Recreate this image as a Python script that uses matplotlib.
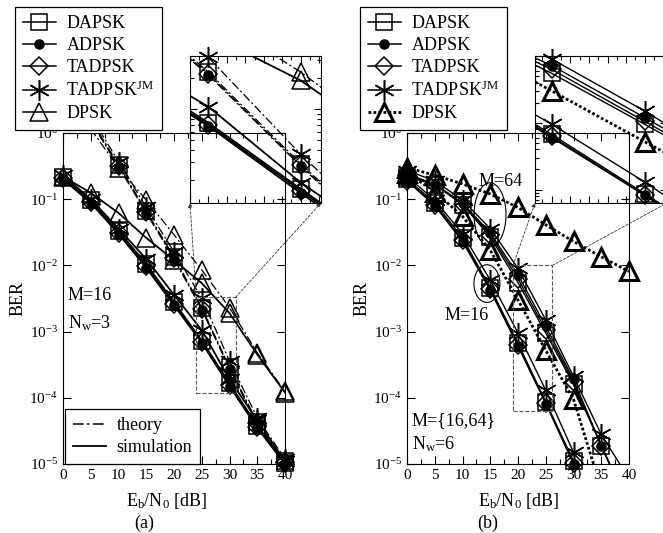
import numpy as np
import matplotlib
matplotlib.use("Agg")
import matplotlib.pyplot as plt
from matplotlib.lines import Line2D
from matplotlib.patches import Ellipse, Rectangle, ConnectionPatch
from matplotlib.ticker import MultipleLocator, LogLocator, NullLocator, NullFormatter

plt.rcParams.update({
    "font.family": ["Liberation Serif", "DejaVu Serif"],
    "mathtext.fontset": "custom",
    "mathtext.rm": "Liberation Serif",
    "mathtext.it": "Liberation Serif:italic",
    "mathtext.bf": "Liberation Serif:bold",
    "axes.linewidth": 0.8,
})

W, H = 663, 533

# ---------------- data ----------------
snr = [0, 5, 10, 15, 20, 25, 30, 35, 40]
snr_th = [5, 10, 15, 20, 25, 30, 35, 40]
snr_b16 = [0, 5, 10, 15, 20, 25, 30]
snr_b16_dpsk = [0, 5, 10, 15, 20, 25, 30, 35]

labels = ["DAPSK", "ADPSK", "TADPSK", "TADPSK$^{\\mathrm{JM}}$", "DPSK"]

# panel (a): M=16, Nw=3 -- simulation
a_sim_dapsk = [0.22, 0.097, 0.033, 0.0105, 0.0028, 7.3e-4, 1.65e-4, 3.8e-5, 1.05e-5]
a_sim_adpsk = [0.20, 0.088, 0.030, 0.0092, 0.0025, 6.8e-4, 1.5e-4, 3.5e-5, 1.0e-5]
a_sim_tadpsk = [0.21, 0.092, 0.031, 0.0098, 0.0026, 7.0e-4, 1.58e-4, 3.6e-5, 1.02e-5]
a_sim_tadpsk_jm = [0.23, 0.10, 0.036, 0.0125, 0.0036, 1.05e-3, 1.9e-4, 4.6e-5, 1.1e-5]
a_sim_dpsk = [0.22, 0.125, 0.062, 0.026, 0.012, 5.4e-3, 1.9e-3, 4.5e-4, 1.2e-4]
# panel (a): theory
a_th_dapsk = [1.6, 0.33, 0.066, 0.0135, 2.3e-3, 2.9e-4, 4.3e-5, 1.1e-5]
a_th_adpsk = [1.5, 0.31, 0.062, 0.0125, 2.15e-3, 2.75e-4, 4.0e-5, 1.05e-5]
a_th_tadpsk = [1.55, 0.32, 0.064, 0.013, 2.2e-3, 2.8e-4, 4.1e-5, 1.07e-5]
a_th_tadpsk_jm = [1.8, 0.37, 0.075, 0.016, 3.2e-3, 3.6e-4, 5.0e-5, 1.2e-5]
a_th_dpsk = [1.15, 0.30, 0.097, 0.029, 8.5e-3, 2.3e-3, 4.8e-4, 1.25e-4]

# panel (b): M=16, Nw=6
b16_dapsk = [0.20, 0.089, 0.026, 4.6e-3, 6.7e-4, 8.7e-5, 1.1e-5]
b16_adpsk = [0.19, 0.080, 0.023, 4.2e-3, 6.0e-4, 8.2e-5, 1.0e-5]
b16_tadpsk = [0.19, 0.083, 0.024, 4.4e-3, 6.3e-4, 8.4e-5, 1.05e-5]
b16_tadpsk_jm = [0.22, 0.097, 0.030, 6.0e-3, 9.5e-4, 1.3e-4, 1.5e-5]
b16_dpsk = [0.25, 0.13, 0.055, 0.017, 3.0e-3, 5.2e-4, 9.5e-5, 4.2e-6]
# panel (b): M=64, Nw=6
b64_dapsk = [0.22, 0.165, 0.083, 0.027, 5.5e-3, 9.5e-4, 1.6e-4, 1.9e-5, 2.2e-6]
b64_adpsk = [0.24, 0.17, 0.088, 0.031, 7.2e-3, 1.2e-3, 1.9e-4, 1.9e-5, 2.2e-6]
b64_tadpsk = [0.23, 0.168, 0.085, 0.029, 6.3e-3, 1.05e-3, 1.75e-4, 1.9e-5, 2.3e-6]
b64_tadpsk_jm = [0.27, 0.19, 0.097, 0.036, 9.0e-3, 1.5e-3, 2.1e-4, 2.8e-5, 6.0e-6]
b64_dpsk = [0.30, 0.23, 0.17, 0.12, 0.075, 0.041, 0.023, 0.0135, 0.0081]

# zoom windows (x range, y range)
zoom_a = ((24.0, 31.1), (1.2e-4, 3.3e-3))
zoom_b = ((19.1, 26.2), (6.3e-5, 1.0e-2))

# ---------------- styles ----------------
MK = [
    dict(marker="s", ms=12, mfc="none"),
    dict(marker="o", ms=6.5, mfc="k"),
    dict(marker="D", ms=9, mfc="none"),
    dict(marker=(6, 2, 0), ms=15),
    dict(marker="^", ms=13.5, mfc="none"),
]
DASHDOT = (0, (7, 2.2, 1.6, 2.2))
DOTTED = (0, (1, 0.8))


def draw(ax, x, y, lims, k, ls="-", lw=1.1, mew=1.1):
    x = np.asarray(x, float)
    y = np.asarray(y, float)
    ax.plot(x, y, color="k", ls=ls, lw=lw, zorder=2)
    (x0, x1), (y0, y1) = lims
    ok = (x >= x0 - 1e-9) & (x <= x1 + 1e-9) & (y >= y0 * 0.97) & (y <= y1 * 1.03)
    ax.plot(x[ok], y[ok], ls="none", color="k", mec="k", mew=mew,
            clip_on=False, zorder=3, **MK[k])


def style_main(ax):
    ax.set_xlim(0, 40)
    ax.set_ylim(1e-5, 1)
    ax.set_yscale("log")
    ax.xaxis.set_major_locator(MultipleLocator(5))
    ax.xaxis.set_minor_locator(MultipleLocator(2.5))
    ax.yaxis.set_major_locator(LogLocator(base=10, numticks=10))
    ax.yaxis.set_minor_locator(NullLocator())
    ax.tick_params(which="both", direction="in", top=True, right=True,
                   labelsize=11, width=0.8)
    ax.tick_params(which="major", length=6)
    ax.tick_params(which="minor", length=3.5)


def style_inset(ax, lims):
    (x0, x1), (y0, y1) = lims
    ax.set_yscale("log")
    ax.set_xlim(x0, x1)
    ax.set_ylim(y0, y1)
    ax.set_facecolor("none")
    ax.xaxis.set_major_locator(MultipleLocator(1))
    ax.xaxis.set_minor_locator(MultipleLocator(0.5))
    ax.yaxis.set_major_locator(LogLocator(base=10, numticks=10))
    ax.yaxis.set_minor_locator(LogLocator(base=10, subs=np.arange(2, 10), numticks=20))
    ax.yaxis.set_minor_formatter(NullFormatter())
    ax.tick_params(which="both", direction="in", top=True, right=True,
                   labelbottom=False, labelleft=False, width=0.8)
    ax.tick_params(which="major", length=5)
    ax.tick_params(which="minor", length=3)


def fx(px):
    return px / W


def fy(py):
    return 1 - py / H


fig = plt.figure(figsize=(W / 100, H / 100), dpi=100)

ax_a = fig.add_axes([fx(63), fy(464), fx(285) - fx(63), fy(133) - fy(464)])
ax_b = fig.add_axes([fx(407), fy(464), fx(629) - fx(407), fy(133) - fy(464)])
in_a = fig.add_axes([fx(190), fy(203), fx(321) - fx(190), fy(56) - fy(203)])
in_b = fig.add_axes([fx(535), fy(203), fx(667) - fx(535), fy(56) - fy(203)])

full = ((0, 40), (1e-5, 1))

# ---- panel (a)
a_sim = [a_sim_dapsk, a_sim_adpsk, a_sim_tadpsk, a_sim_tadpsk_jm, a_sim_dpsk]
a_th = [a_th_dapsk, a_th_adpsk, a_th_tadpsk, a_th_tadpsk_jm, a_th_dpsk]
for ax, lims in ((ax_a, full), (in_a, zoom_a)):
    for k in range(5):
        draw(ax, snr_th, a_th[k], lims, k, ls=DASHDOT, lw=0.9)
        draw(ax, snr, a_sim[k], lims, k, ls="-", lw=1.3)

# ---- panel (b)
b16 = [b16_dapsk, b16_adpsk, b16_tadpsk, b16_tadpsk_jm]
b64 = [b64_dapsk, b64_adpsk, b64_tadpsk, b64_tadpsk_jm]
for ax, lims in ((ax_b, full), (in_b, zoom_b)):
    for k in range(4):
        draw(ax, snr_b16, b16[k], lims, k, lw=1.0)
        draw(ax, snr, b64[k], lims, k, lw=1.0)
    draw(ax, snr_b16_dpsk, b16_dpsk, lims, 4, ls=DOTTED, lw=2.0, mew=2.2)
    draw(ax, snr, b64_dpsk, lims, 4, ls=DOTTED, lw=2.0, mew=2.2)

style_main(ax_a)
style_main(ax_b)
style_inset(in_a, zoom_a)
style_inset(in_b, zoom_b)

# zoom rectangles and connectors
for ax, ins, lims in ((ax_a, in_a, zoom_a), (ax_b, in_b, zoom_b)):
    (x0, x1), (y0, y1) = lims
    ax.add_patch(Rectangle((x0, y0), x1 - x0, y1 - y0, fill=False, ls="--",
                           lw=0.8, ec="0.35", zorder=4))
    for xa, xb in ((x0, 0), (x1, 1)):
        cp = ConnectionPatch(xyA=(xa, y1), coordsA=ax.transData,
                             xyB=(xb, 0), coordsB=ins.transAxes,
                             arrowstyle="-|>", mutation_scale=6,
                             ls=(0, (3, 2)), lw=0.6, color="0.2")
        fig.add_artist(cp)


# legends
def scheme_handles(dpsk_ls, dpsk_lw, dpsk_mew):
    hs = []
    for k in range(5):
        if k == 4:
            hs.append(Line2D([], [], color="k", ls=dpsk_ls, lw=dpsk_lw,
                             mec="k", mew=dpsk_mew, **MK[k]))
        else:
            hs.append(Line2D([], [], color="k", ls="-", lw=1.1, mec="k",
                             mew=1.1, **MK[k]))
    return hs


leg_kw = dict(fontsize=13, frameon=True, fancybox=False, edgecolor="k",
              framealpha=1, handlelength=1.8, handletextpad=0.6,
              labelspacing=0.27, borderpad=0.45, borderaxespad=0)

la = fig.legend(scheme_handles("-", 1.1, 1.1), labels, loc="upper left",
                bbox_to_anchor=(fx(15), fy(7)), **leg_kw)
la.get_frame().set_linewidth(0.9)
lb = fig.legend(scheme_handles(DOTTED, 2.0, 2.2), labels, loc="upper left",
                bbox_to_anchor=(fx(360), fy(7)), **leg_kw)
lb.get_frame().set_linewidth(0.9)

lt = ax_a.legend([Line2D([], [], color="k", ls=DASHDOT, lw=1.1),
                  Line2D([], [], color="k", ls="-", lw=1.3)],
                 ["theory", "simulation"], loc="lower left",
                 bbox_to_anchor=(0.01, 0.0), **leg_kw)
lt.get_frame().set_linewidth(0.9)

# ellipses in panel (b)
ax_b.add_patch(Ellipse((0.374, 0.753), 0.144, 0.193, transform=ax_b.transAxes,
                       fill=False, lw=0.8, ec="k", zorder=4))
ax_b.add_patch(Ellipse((0.36, 0.545), 0.117, 0.114, transform=ax_b.transAxes,
                       fill=False, lw=0.8, ec="k", zorder=4))


# texts
def ftext(px, py, s, **kw):
    fig.text(fx(px), fy(py), s, fontsize=13, va="center", **kw)


ftext(68, 295, "M=16")
ftext(68, 323, "N$_\\mathrm{w}$=3")
ftext(479, 181, "M=64")
ftext(445, 315, "M=16")
ftext(412, 421, "M={16,64}")
ftext(412, 444, "N$_\\mathrm{w}$=6")

ftext(166, 501, "E$_\\mathrm{b}$/N$_0$ [dB]", ha="center")
ftext(518, 501, "E$_\\mathrm{b}$/N$_0$ [dB]", ha="center")
ftext(144, 523, "(a)", ha="center")
ftext(488, 523, "(b)", ha="center")
ftext(18, 298, "BER", ha="center", rotation=90)
ftext(362, 298, "BER", ha="center", rotation=90)

fig.savefig("out.png", dpi=100)
